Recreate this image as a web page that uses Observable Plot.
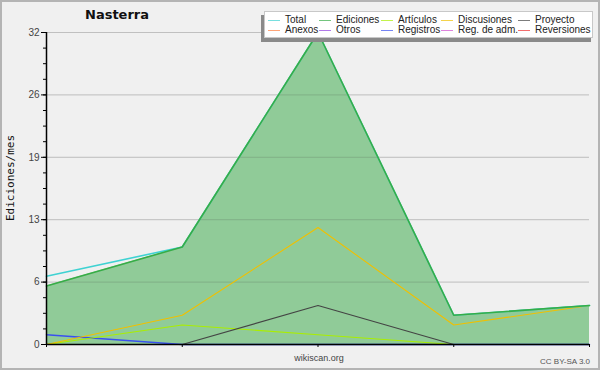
<!DOCTYPE html>
<html>
<head>
<meta charset="utf-8">
<script src="https://cdn.jsdelivr.net/npm/d3@7"></script>
<script src="https://cdn.jsdelivr.net/npm/@observablehq/plot@0.6"></script>
<style>
  html, body { margin: 0; padding: 0; background: #f0f0f0; }
  #wrap { position: relative; width: 600px; height: 370px; overflow: hidden; background: #f0f0f0; font-family: "Liberation Sans", Arial, sans-serif; }
  #frame { position: absolute; left: 0; top: 0; width: 600px; height: 370px; box-sizing: border-box; border: 2px solid #b4b4b4; pointer-events: none; }
  #title { position: absolute; left: 85px; top: 7px; font: bold 13px "DejaVu Sans", sans-serif; color: #111; }
  #ylabel { position: absolute; left: 10px; top: 178px; transform: translate(-50%, -50%) rotate(-90deg); font: 11px "DejaVu Sans Mono", monospace; color: #111; white-space: nowrap; }
  #legshadow { position: absolute; left: 261px; top: 15px; width: 330px; height: 27px; background: #8a8a8a; }
  #legend { position: absolute; left: 264px; top: 11px; width: 327px; height: 25px; background: #fff; border: 1px solid #c8c8c8; }
  .li { position: absolute; height: 10px; font-size: 10px; color: #222; line-height: 10px; white-space: nowrap; }
  .li .sw { position: absolute; left: 0; top: 5px; width: 12px; height: 1px; }
  .li .tx { position: absolute; left: 17px; top: 0; }
  #src { position: absolute; left: 319px; top: 353px; transform: translateX(-50%); font-size: 9px; color: #444; }
  #lic { position: absolute; right: 10px; top: 357px; font-size: 8px; color: #555; }
</style>
</head>
<body>
<div id="wrap">
  <div id="chart"></div>
  <div id="title"></div>
  <div id="ylabel"></div>
  <div id="legshadow"></div>
  <div id="legend"></div>
  <div id="src"></div>
  <div id="lic"></div>
  <div id="frame"></div>
</div>
<script>
// ---- data ----
const titleText = "Nasterra";
const yLabel = "Ediciones/mes";
const sourceText = "wikiscan.org";
const licenseText = "CC BY-SA 3.0";
const periods = [0, 1, 2, 3, 4];
const seriesNames = ["Total", "Ediciones", "Artículos", "Discusiones", "Proyecto",
                     "Anexos", "Otros", "Registros", "Reg. de adm.", "Reversiones"];
const seriesColors = ["#3fd2d2", "#37ad47", "#aaee00", "#f0c000", "#444444",
                      "#ff7f3f", "#9040e0", "#3a50f0", "#d050d0", "#ee3030"];
const total       = [7, 10, 32, 3, 4];
const ediciones   = [6, 10, 32, 3, 4];
const articulos   = [0, 2, 1, 0, 0];
const discusiones = [0, 3, 12, 2, 4];
const proyecto    = [0, 0, 4, 0, 0];
const anexos      = [0, 0, 0, 0, 0];
const otros       = [0, 0, 0, 0, 0];
const registros   = [1, 0, 0, 0, 0];
const regAdm      = [0, 0, 0, 0, 0];
const reversiones = [0, 0, 0, 0, 0];
const yMajorTicks = [0, 6.4, 12.8, 19.2, 25.6, 32];
const yMinorTicks = d3.range(0, 32.01, 1.6);

// ---- build ----
const allSeries = [total, ediciones, articulos, discusiones, proyecto,
                   anexos, otros, registros, regAdm, reversiones];
const toRows = (vals) => periods.map((p, i) => ({x: p, y: vals[i]}));

const drawOrder = [5, 6, 8, 9, 7, 2, 3, 4, 0, 1];
const lineMarks = drawOrder.map(k => Plot.line(toRows(allSeries[k]), {
  x: "x", y: "y", stroke: seriesColors[k],
  strokeWidth: (k === 0 || k === 1) ? 1.6 : (k === 7 ? 1.4 : 1.1)
}));

const chart = Plot.plot({
  width: 600, height: 370,
  marginLeft: 46, marginRight: 11, marginTop: 32, marginBottom: 26,
  style: {background: "transparent", fontFamily: "Liberation Sans, Arial, sans-serif", fontSize: "10px", color: "#333"},
  x: {domain: [0, 4], axis: null},
  y: {domain: [0, 32], axis: null},
  marks: [
    Plot.ruleY(yMajorTicks, {stroke: "#c9c9c9", strokeWidth: 1}),
    Plot.areaY(toRows(ediciones), {x: "x", y: "y", fill: "#2fa540", fillOpacity: 0.5}),
    Plot.ruleY(yMajorTicks.slice(1), {stroke: "#999", strokeOpacity: 0.18, strokeWidth: 1}),
    ...lineMarks,
    Plot.axisY(yMinorTicks, {tickSize: 3, tickFormat: () => "", stroke: "#000", label: null}),
    Plot.axisY(yMajorTicks, {tickSize: 5, tickPadding: 2, tickFormat: d => Math.round(d), stroke: "#000", fill: "#444", label: null}),
    Plot.axisX(periods, {tickSize: 3, tickFormat: () => "", stroke: "#000", label: null}),
    Plot.ruleY([0], {stroke: "#000", strokeWidth: 1.5}),
    Plot.ruleX([0], {stroke: "#000", strokeWidth: 1.5})
  ]
});
document.getElementById("chart").appendChild(chart);

document.getElementById("title").textContent = titleText;
document.getElementById("ylabel").textContent = yLabel;
document.getElementById("src").textContent = sourceText;
document.getElementById("lic").textContent = licenseText;

// legend
const colX = [3, 54, 116, 176, 253];
const rowY = [3, 13];
const legend = document.getElementById("legend");
seriesNames.forEach((name, i) => {
  const row = Math.floor(i / 5), col = i % 5;
  const item = document.createElement("div");
  item.className = "li";
  item.style.left = colX[col] + "px";
  item.style.top = rowY[row] + "px";
  const sw = document.createElement("div");
  sw.className = "sw";
  sw.style.background = seriesColors[i];
  sw.style.opacity = 0.7;
  const tx = document.createElement("div");
  tx.className = "tx";
  tx.textContent = name;
  item.appendChild(sw); item.appendChild(tx);
  legend.appendChild(item);
});
</script>
</body>
</html>
